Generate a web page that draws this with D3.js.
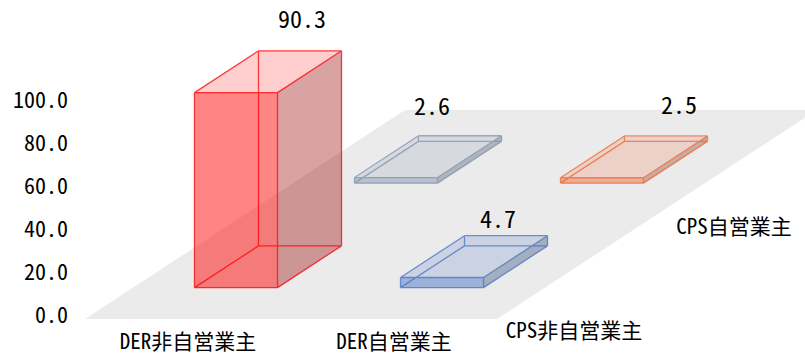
<!DOCTYPE html>
<html>
<head>
<meta charset="utf-8">
<script src="https://cdn.jsdelivr.net/npm/d3@7"></script>
<style>
  html, body { margin: 0; padding: 0; background: #ffffff; }
  svg { display: block; }
  text { font-family: "Noto Sans Mono CJK JP", "Noto Sans CJK JP", sans-serif; fill: #000; }
</style>
</head>
<body>
<svg id="chart" width="805" height="354"></svg>
<script>
// Categories along the front edge, series along the depth axis
const categories = ["DER非自営業主", "DER自営業主"];
const series = ["CPS非自営業主", "CPS自営業主"];

// Shares (%) for each series, one value per category
const valuesCPSNonSelf = [90.3, 4.7];
const valuesCPSSelf = [2.6, 2.5];

// Bar colours per series, one per category
const colorsCPSNonSelf = ["#ff0000", "#4472c4"];
const colorsCPSSelf = ["#7f93ae", "#ee6636"];

// Value-axis ticks
const yTicks = [0, 20, 40, 60, 80, 100];

// Label nudges from the back-top edge centre of each bar
const labelNudgeCPSNonSelf = [[2, -31], [-8, -16]];
const labelNudgeCPSSelf = [[-28, -29], [13, -31]];

const rows = [
  { name: series[0], values: valuesCPSNonSelf, colors: colorsCPSNonSelf, nudge: labelNudgeCPSNonSelf },
  { name: series[1], values: valuesCPSSelf, colors: colorsCPSSelf, nudge: labelNudgeCPSSelf }
];

const svg = d3.select("#chart");

// Oblique projection of the floor
const X0 = 85, Y0 = 319;             // front-left corner of the floor
const floorW = 412;                  // width of the front edge
const slotDX = 160, slotDY = -104.5; // screen offset for one depth slot

const x = d3.scaleBand().domain(categories).range([0, floorW])
  .paddingInner(0.597).paddingOuter(0.2985);
const z = d3.scaleBand().domain(series).range([0, series.length])
  .paddingInner(0.6).paddingOuter(0.3);
const h = d3.scaleLinear().domain([0, 100]).range([0, 216]);
const yAxisScale = d3.scaleLinear().domain([0, 100]).range([315.5, 100]);

function P(u, d, v) {
  return [X0 + u + d * slotDX, Y0 + d * slotDY - h(v)];
}
const poly = pts => "M" + pts.map(p => p.join(",")).join("L") + "Z";
const seg = (a, b) => "M" + a.join(",") + "L" + b.join(",");

// Floor
const nDepth = series.length;
svg.append("path")
  .attr("d", poly([P(0, 0, 0), P(floorW, 0, 0), P(floorW, nDepth, 0), P(0, nDepth, 0)]))
  .attr("fill", "#ebebeb");

// Value axis labels
const yAxis = d3.axisLeft(yAxisScale).tickValues(yTicks)
  .tickFormat(d3.format(".1f")).tickSize(0).tickPadding(0);
const gy = svg.append("g").attr("transform", "translate(68,0)").call(yAxis);
gy.select(".domain").remove();
gy.selectAll("text").attr("font-size", 22).attr("font-family", null).attr("fill", "#000");

// Bars, back row first so nearer boxes overlay farther ones
const barsG = svg.append("g");
const labels = [];
rows.slice().reverse().forEach(row => {
  categories.forEach((cat, i) => {
    const v = row.values[i];
    const base = d3.rgb(row.colors[i]);
    const u0 = x(cat), u1 = x(cat) + x.bandwidth();
    const d0 = z(row.name), d1 = z(row.name) + z.bandwidth();
    const A = P(u0, d0, 0), B = P(u1, d0, 0), C = P(u0, d1, 0), D = P(u1, d1, 0);
    const At = P(u0, d0, v), Bt = P(u1, d0, v), Ct = P(u0, d1, v), Dt = P(u1, d1, v);
    const g = barsG.append("g");
    const dark = base.darker(1.5);
    g.append("path").attr("d", poly([B, D, Dt, Bt]))
      .attr("fill", dark).attr("fill-opacity", 0.36);
    g.append("path").attr("d", poly([At, Bt, Dt, Ct]))
      .attr("fill", base).attr("fill-opacity", 0.19);
    g.append("path").attr("d", poly([A, B, Bt, At]))
      .attr("fill", base).attr("fill-opacity", 0.48);
    const edges = [
      [A, B], [B, D], [D, C], [C, A],
      [At, Bt], [Bt, Dt], [Dt, Ct], [Ct, At],
      [A, At], [B, Bt], [C, Ct], [D, Dt]
    ];
    g.append("path").attr("d", edges.map(e => seg(e[0], e[1])).join(""))
      .attr("fill", "none").attr("stroke", base).attr("stroke-opacity", 0.75)
      .attr("stroke-width", 1.3).attr("stroke-linejoin", "round");
    const top = P((u0 + u1) / 2, d1, v);
    labels.push({ v, x: top[0] + row.nudge[i][0], y: top[1] + row.nudge[i][1] });
  });
});

// Value labels
svg.append("g").selectAll("text").data(labels).join("text")
  .attr("x", d => d.x).attr("y", d => d.y).attr("dy", "0.36em")
  .attr("text-anchor", "middle").attr("font-size", 24)
  .text(d => d3.format(".1f")(d.v));

// Category labels along the front edge
svg.append("g").selectAll("text").data(categories).join("text")
  .attr("x", d => X0 + x(d) + x.bandwidth() / 2).attr("y", Y0 + 22).attr("dy", "0.36em")
  .attr("text-anchor", "middle").attr("font-size", 21)
  .text(d => d);

// Series labels beside the right edge of the floor
svg.append("g").selectAll("text").data(series).join("text")
  .attr("x", d => P(floorW, z(d) + z.bandwidth() / 2, 0)[0] - 3)
  .attr("y", d => P(floorW, z(d) + z.bandwidth() / 2, 0)[1] + 64).attr("dy", "0.36em")
  .attr("text-anchor", "middle").attr("font-size", 21)
  .text(d => d);
</script>
</body>
</html>
